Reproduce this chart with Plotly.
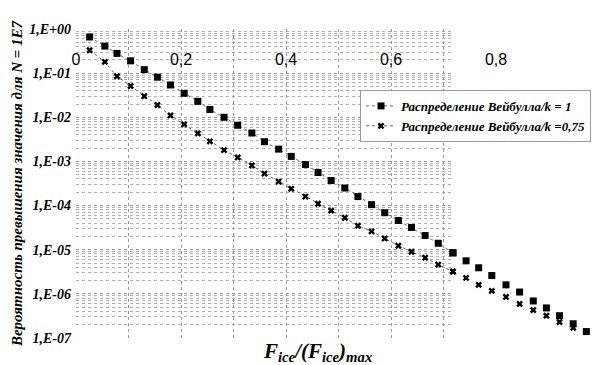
import plotly.graph_objects as go

# F_ice / (F_ice)max
x_vals = [0.026, 0.055, 0.078, 0.104, 0.130, 0.155, 0.180, 0.206, 0.232, 0.255,
          0.282, 0.308, 0.335, 0.359, 0.386, 0.410, 0.437, 0.461, 0.486, 0.512,
          0.537, 0.563, 0.588, 0.614, 0.639, 0.665, 0.690, 0.718, 0.743, 0.767,
          0.792, 0.819, 0.845, 0.871, 0.896, 0.921, 0.947, 0.972, 0.996]

# Weibull k = 1 (squares)
p_k1 = [6.6e-1, 4.1e-1, 2.8e-1, 1.9e-1, 1.2e-1, 8.1e-2, 5.4e-2, 3.5e-2, 2.3e-2, 1.5e-2,
        1.0e-2, 6.6e-3, 4.4e-3, 2.8e-3, 1.9e-3, 1.3e-3, 8.5e-4, 5.6e-4, 3.7e-4, 2.5e-4,
        1.6e-4, 1.05e-4, 6.9e-5, 4.6e-5, 3.2e-5, 2.1e-5, 1.4e-5, 8.5e-6, 5.6e-6, 3.9e-6,
        2.6e-6, 1.6e-6, 1.1e-6, 6.9e-7, 4.8e-7, 3.2e-7, 2.1e-7, 1.4e-7, 9.5e-8]

# Weibull k = 0.75 (crosses)
p_k075 = [3.3e-1, 1.8e-1, 8.5e-2, 5.1e-2, 3.0e-2, 1.9e-2, 1.1e-2, 6.9e-3, 4.3e-3, 2.85e-3,
          1.8e-3, 1.23e-3, 8.1e-4, 5.3e-4, 3.5e-4, 2.4e-4, 1.6e-4, 1.1e-4, 7.7e-5, 5.3e-5,
          3.5e-5, 2.6e-5, 1.8e-5, 1.23e-5, 9.0e-6, 6.6e-6, 4.6e-6, 3.2e-6, 2.3e-6, 1.6e-6,
          1.17e-6, 8.5e-7, 5.9e-7, 4.3e-7, 3.2e-7, 2.3e-7, 1.7e-7, 1.37e-7]

names = ["Распределение Вейбулла/k = 1", "Распределение Вейбулла/k =0,75"]

x_tickvals = [0, 0.2, 0.4, 0.6, 0.8, 1]
x_ticktext = ["0", "0,2", "0,4", "0,6", "0,8", "1"]
y_tickvals = [1e0, 1e-1, 1e-2, 1e-3, 1e-4, 1e-5, 1e-6, 1e-7]
y_ticktext = ["1,E+00", "1,E-01", "1,E-02", "1,E-03", "1,E-04", "1,E-05", "1,E-06", "1,E-07"]

LINE_END = 28  # the connecting line stops around 0.72 in the original

SERIF = "Liberation Serif"
SANS = "Liberation Sans"

W, H = 599, 365
L, R, T, B = 68, 6, 21, 35
PW, PH = W - L - R, H - T - B

fig = go.Figure()

# empty trace so the grid-only subplot (x/y) is created
fig.add_trace(go.Scatter(x=[], y=[], xaxis="x", yaxis="y", showlegend=False))

series = [
    (names[0], p_k1, "square", 7),
    (names[1], p_k075, "x", 6),
]
for name, p, sym, size in series:
    n = len(p)
    fig.add_trace(go.Scatter(
        x=x_vals[:LINE_END], y=p[:LINE_END], name=name,
        mode="lines+markers",
        line=dict(color="#666666", width=1, dash="dot"),
        marker=dict(symbol=sym, size=size, color="black", line=dict(width=0)),
        xaxis="x2", yaxis="y2", cliponaxis=False,
    ))
    fig.add_trace(go.Scatter(
        x=x_vals[LINE_END - 1:n], y=p[LINE_END - 1:n], name=name,
        mode="markers", showlegend=False,
        marker=dict(symbol=sym, size=size, color="black", line=dict(width=0)),
        xaxis="x2", yaxis="y2", cliponaxis=False,
    ))

grid_dot = dict(gridcolor="#9a9a9a", griddash="dot", gridwidth=1)

fig.update_layout(
    width=W, height=H,
    margin=dict(l=L, r=R, t=T, b=B, autoexpand=False),
    paper_bgcolor="white",
    plot_bgcolor="rgba(0,0,0,0)",
    showlegend=True,
    # grid-only axes, covering 0..0.72 as in the scan
    xaxis=dict(domain=[0, 0.72], range=[0, 0.72], anchor="y",
               tickvals=[0, 0.1, 0.2, 0.3, 0.4, 0.5, 0.6, 0.7],
               showticklabels=False, showgrid=True, zeroline=False,
               showline=False, ticks="", automargin=False, **grid_dot),
    yaxis=dict(type="log", range=[-7, 0], anchor="x", domain=[0, 1],
               showticklabels=False, showgrid=True, zeroline=False,
               showline=False, ticks="", dtick=1, automargin=False, **grid_dot,
               minor=dict(showgrid=True, dtick="D1", gridcolor="#b0b0b0",
                          griddash="dot", gridwidth=1)),
    # data axes
    xaxis2=dict(domain=[0, 1], range=[0, 1], anchor="free",
                position=(H - B - 38) / PH,
                side="bottom", tickvals=x_tickvals, ticktext=x_ticktext,
                showgrid=False, zeroline=False, showline=False, ticks="",
                ticklabelstandoff=2, ticklabeloverflow="allow", automargin=False,
                tickfont=dict(family=SANS, size=16, color="black")),
    yaxis2=dict(type="log", range=[-7, 0], anchor="x2", domain=[0, 1],
                tickvals=y_tickvals, ticktext=y_ticktext,
                showgrid=False, zeroline=False, showline=False, ticks="",
                ticklabelstandoff=4, automargin=False,
                tickfont=dict(family=SERIF, size=14, color="black",
                              weight="bold", style="italic"),
                title=dict(text="Вероятность превышения значения для N = 1E7",
                           standoff=2,
                           font=dict(family=SERIF, size=15, color="black",
                                     weight="bold", style="italic"))),
    legend=dict(x=(352 - L) / PW, xanchor="left",
                y=1 - (82 - T) / PH, yanchor="top",
                bgcolor="white", bordercolor="#999999", borderwidth=1,
                font=dict(family=SERIF, size=13, color="black",
                          weight="bold", style="italic"),
                tracegroupgap=0, itemwidth=30),
    annotations=[dict(
        text="F<sub>ice</sub>/(F<sub>ice</sub>)<sub>max</sub>",
        xref="paper", yref="paper", x=(309 - L) / PW, y=-(344 - (H - B)) / PH,
        xanchor="center", yanchor="middle", showarrow=False,
        font=dict(family=SERIF, size=21, color="black",
                  weight="bold", style="italic"),
    )],
)

fig.write_html("out.html")
